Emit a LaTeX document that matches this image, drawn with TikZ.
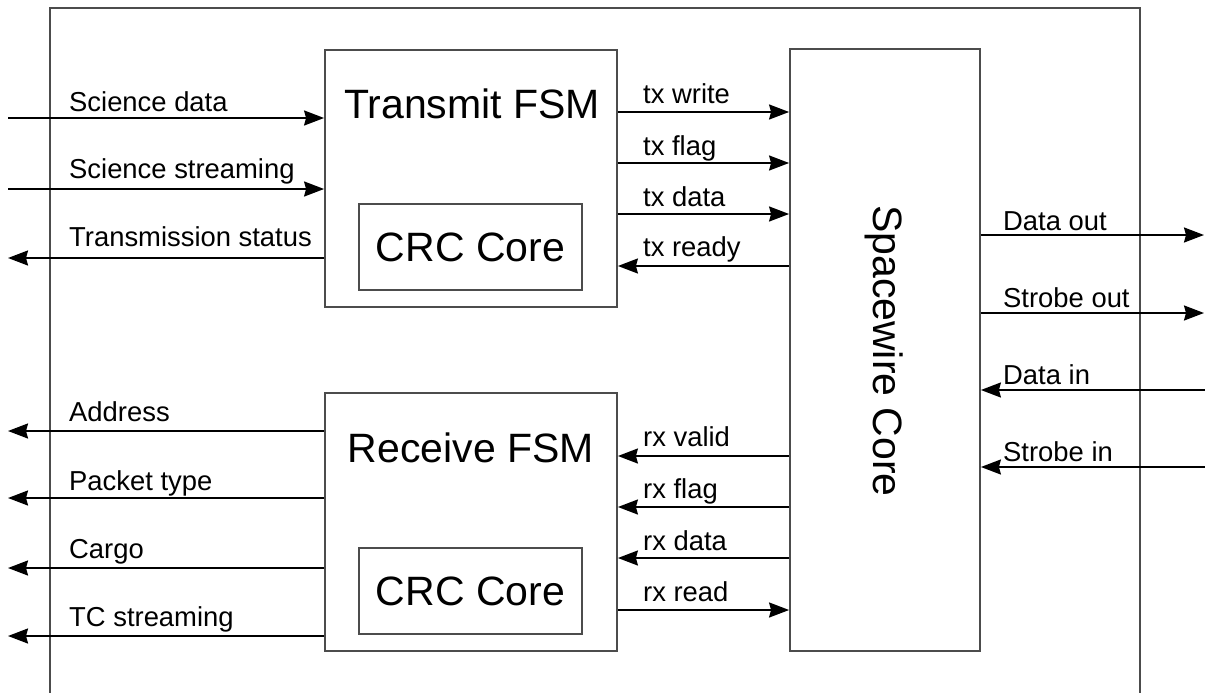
\documentclass[tikz,border=0pt]{standalone}
\usepackage{fontspec}
\setmainfont{Liberation Sans}
\usetikzlibrary{arrows.meta}

\begin{document}
\begin{tikzpicture}[x=1pt,y=-1pt,
  sig/.style={line width=2pt, draw=black, -{Stealth[length=20pt,width=15pt,inset=2pt]}},
  frame/.style={draw=black!70, line width=1.8pt},
  blk/.style={draw=black!70, line width=1.8pt, inner sep=0pt, rectangle},
  lbl/.style={font=\fontsize{27.4}{30}\selectfont, anchor=base west, inner sep=0pt},
  ttl/.style={font=\fontsize{41}{45}\selectfont, inner sep=0pt}]
\useasboundingbox (0,0) rectangle (1205,693);

% enclosing frame (open at the bottom)
\coordinate (fBL) at (50,693);
\coordinate (fTL) at (50,8);
\coordinate (fTR) at (1140,8);
\coordinate (fBR) at (1140,693);
\draw[frame] (fBL) -- (fTL) -- (fTR) -- (fBR);

% blocks
\node[blk, minimum width=292pt, minimum height=257pt] (tx) at (471,178.5) {};
\node[blk, minimum width=223pt, minimum height=86pt, ttl] (txcrc) at (470.5,247) {CRC Core};
\node[ttl, anchor=base] (txtitle) at (472,118) {Transmit FSM};

\node[blk, minimum width=292pt, minimum height=258pt] (rx) at (471,522) {};
\node[blk, minimum width=223pt, minimum height=86pt, ttl] (rxcrc) at (470.5,591) {CRC Core};
\node[ttl, anchor=base] (rxtitle) at (471,462) {Receive FSM};

\node[blk, minimum width=190pt, minimum height=602pt] (spw) at (885,350) {};
\node[ttl, rotate=-90, anchor=base] (spwtitle) at (873,351) {Spacewire Core};

% left side: transmit interface
\coordinate (sdL) at (8,118);
\coordinate (ssL) at (8,189);
\coordinate (tsL) at (8,258);
\draw[sig] (sdL) -- (sdL -| tx.west);
\draw[sig] (ssL) -- (ssL -| tx.west);
\draw[sig] (tsL -| tx.west) -- (tsL);
\node[lbl] (sdT) at (69,111.5) {Science data};
\node[lbl] (ssT) at (69,178) {Science streaming};
\node[lbl] (tsT) at (69,246.5) {Transmission status};

% left side: receive interface
\coordinate (adL) at (8,431);
\coordinate (ptL) at (8,498);
\coordinate (cgL) at (8,568);
\coordinate (tcL) at (8,636);
\draw[sig] (adL -| rx.west) -- (adL);
\draw[sig] (ptL -| rx.west) -- (ptL);
\draw[sig] (cgL -| rx.west) -- (cgL);
\draw[sig] (tcL -| rx.west) -- (tcL);
\node[lbl] (adT) at (69,421) {Address};
\node[lbl] (ptT) at (69,490) {Packet type};
\node[lbl] (cgT) at (69,558) {Cargo};
\node[lbl] (tcT) at (69,626.5) {TC streaming};

% transmit FSM <-> Spacewire core
\coordinate (twY) at (0,112);
\coordinate (tfY) at (0,163);
\coordinate (tdY) at (0,214);
\coordinate (trY) at (0,266);
\draw[sig] (twY -| tx.east) -- (twY -| spw.west);
\draw[sig] (tfY -| tx.east) -- (tfY -| spw.west);
\draw[sig] (tdY -| tx.east) -- (tdY -| spw.west);
\draw[sig] (trY -| spw.west) -- (trY -| tx.east);
\node[lbl] (twT) at (643,103) {tx write};
\node[lbl] (tfT) at (643,155) {tx flag};
\node[lbl] (tdT) at (643,206.5) {tx data};
\node[lbl] (trT) at (643,256.5) {tx ready};

% receive FSM <-> Spacewire core
\coordinate (rvY) at (0,456);
\coordinate (rfY) at (0,507);
\coordinate (rdY) at (0,558);
\coordinate (rrY) at (0,610);
\draw[sig] (rvY -| spw.west) -- (rvY -| rx.east);
\draw[sig] (rfY -| spw.west) -- (rfY -| rx.east);
\draw[sig] (rdY -| spw.west) -- (rdY -| rx.east);
\draw[sig] (rrY -| rx.east) -- (rrY -| spw.west);
\node[lbl] (rvT) at (643,446.5) {rx valid};
\node[lbl] (rfT) at (643,498) {rx flag};
\node[lbl] (rdT) at (643,550) {rx data};
\node[lbl] (rrT) at (643,601) {rx read};

% right side: link signals
\coordinate (doR) at (1204,235);
\coordinate (soR) at (1204,313);
\coordinate (diR) at (1205,390);
\coordinate (siR) at (1205,467);
\draw[sig] (doR -| spw.east) -- (doR);
\draw[sig] (soR -| spw.east) -- (soR);
\draw[sig] (diR) -- (diR -| spw.east);
\draw[sig] (siR) -- (siR -| spw.east);
\node[lbl] (doT) at (1003,230) {Data out};
\node[lbl] (soT) at (1003,307) {Strobe out};
\node[lbl] (diT) at (1003,384.5) {Data in};
\node[lbl] (siT) at (1003,461.5) {Strobe in};
\end{tikzpicture}
\end{document}
